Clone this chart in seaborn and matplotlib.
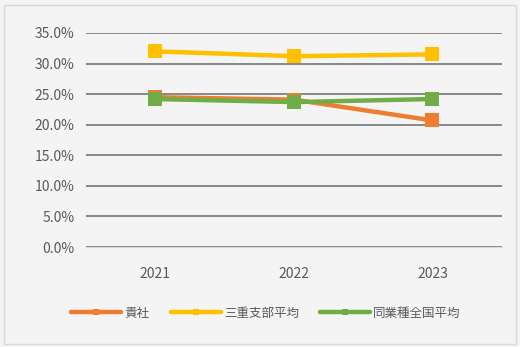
import pandas as pd
import seaborn as sns
import matplotlib.pyplot as plt
from matplotlib.ticker import PercentFormatter

# values (ratio, %)
years = ['2021', '2022', '2023']
kisha = [24.5, 24.1, 20.7]            # 貴社
mie_avg = [32.0, 31.2, 31.5]          # 三重支部平均
zenkoku_avg = [24.2, 23.7, 24.2]      # 同業種全国平均
series_names = ['貴社', '三重支部平均', '同業種全国平均']
colors = ['#ED7D31', '#FFC000', '#70AD47']

df = pd.DataFrame({
    'year': years * 3,
    'value': kisha + mie_avg + zenkoku_avg,
    'series': [s for s in series_names for _ in years],
})

sns.set_style('white')
plt.rcParams['font.family'] = ['Noto Sans CJK JP', 'DejaVu Sans']

fig = plt.figure(figsize=(5.2, 3.47), dpi=100, facecolor='#f4f4f4')
ax = fig.add_axes([0.165, 0.288, 0.80, 0.617])
ax.set_facecolor('#f4f4f4')

# green is drawn last so it sits on top of orange, as in the original
sns.lineplot(data=df, x='year', y='value', hue='series', hue_order=series_names,
             palette=colors, marker='s', markersize=10, markeredgewidth=0,
             linewidth=3.2, ax=ax, sort=False)

ax.set_ylim(0, 35)
ax.set_xlim(-0.5, 2.5)
ax.set_yticks(range(0, 36, 5))
ax.yaxis.set_major_formatter(PercentFormatter(decimals=1))
ax.grid(axis='y', color='#7f7f7f', linewidth=1.3)
ax.set_axisbelow(True)
for s in ['top', 'right', 'left']:
    ax.spines[s].set_visible(False)
ax.spines['bottom'].set_color('#d9d9d9')
ax.tick_params(axis='both', length=0, labelsize=10, colors='#595959', pad=8)
ax.tick_params(axis='x', pad=14)
ax.set_xlabel('')
ax.set_ylabel('')

leg = ax.legend(loc='center', bbox_to_anchor=(0.433, -0.308), ncol=3, frameon=False,
                fontsize=9, handlelength=4, columnspacing=1.7, handletextpad=0.25,
                labelcolor='#595959')
for h in leg.legend_handles:
    h.set_markersize(4)

# thin outer frame
fig.patches.append(plt.Rectangle((0.008, 0.01), 0.984, 0.975, transform=fig.transFigure,
                                 fill=False, edgecolor='#d9d9d9', linewidth=1))

plt.savefig('out.png', dpi=100, facecolor=fig.get_facecolor())
